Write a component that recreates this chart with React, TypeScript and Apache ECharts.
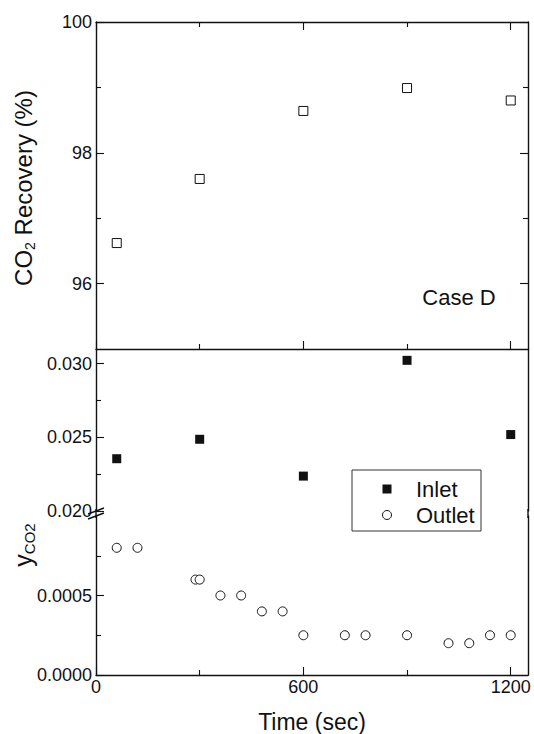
import React, { useEffect, useRef } from "react";
import * as echarts from "echarts";

// ---- data ----
const recoveryTime = [60, 300, 600, 900, 1200];
const recoveryPct = [96.62, 97.6, 98.64, 98.99, 98.8];

const inletTime = [60, 300, 600, 900, 1200];
const inletY = [0.02355, 0.02487, 0.02237, 0.03023, 0.02519];

const outletTime = [60, 120, 288, 300, 360, 420, 480, 540, 600, 720, 780, 900, 1020, 1080, 1140, 1200];
const outletY = [0.0008, 0.0008, 0.0006, 0.0006, 0.0005, 0.0005, 0.0004, 0.0004, 0.00025, 0.00025, 0.00025, 0.00025, 0.0002, 0.0002, 0.00025, 0.00025];

const xMajor = [0, 600, 1200];
const xMinor = [300, 900];
const recMajor = [96, 98, 100];
const recMinor = [97, 99];
const inMajor = [0.02, 0.025, 0.03];
const inMinor = [0.0225, 0.0275];
const outMajor = [0, 0.0005];
const outMinor = [0.00025, 0.00075];

const FONT = "'Liberation Sans', Arial, Helvetica, sans-serif";
const INK = "#111111";

function pairs(xs: number[], ys: number[]) {
  return xs.map((x, i) => [x, ys[i]]);
}

const lineStyle = { color: INK, width: 1.4 };

function xAx(grid: number, pos: "top" | "bottom", ticks: number[], len: number, showLine: boolean, labels: boolean) {
  return {
    type: "value",
    gridIndex: grid,
    position: pos,
    min: 0,
    max: 1250,
    axisLine: { show: showLine, onZero: false, lineStyle },
    axisTick: { show: true, inside: true, length: len, customValues: ticks, lineStyle: { color: INK, width: 1.1 } },
    axisLabel: labels
      ? {
          show: true,
          customValues: ticks,
          fontSize: 18,
          color: INK,
          fontFamily: FONT,
          margin: 3,
          formatter: (v: number) => String(v),
        }
      : { show: false },
    splitLine: { show: false },
  };
}

function yAx(grid: number, pos: "left" | "right", min: number, max: number, ticks: number[] | null, len: number, showLine: boolean, labelDigits: number | null) {
  return {
    type: "value",
    gridIndex: grid,
    position: pos,
    min,
    max,
    axisLine: { show: showLine, onZero: false, lineStyle },
    axisTick: ticks
      ? { show: true, inside: true, length: len, customValues: ticks, lineStyle: { color: INK, width: 1.1 } }
      : { show: false },
    axisLabel:
      labelDigits !== null && ticks
        ? {
            show: true,
            customValues: ticks,
            fontSize: 18,
            color: INK,
            fontFamily: FONT,
            margin: 4,
            formatter: (v: number) => v.toFixed(labelDigits),
          }
        : { show: false },
    splitLine: { show: false },
  };
}

export default function App() {
  const ref = useRef<HTMLDivElement>(null);

  useEffect(() => {
    if (!ref.current) return;
    const chart = echarts.init(ref.current, undefined, { renderer: "svg" });

    const L = 96;
    const W = 432;
    const R = L + W;

    const option: any = {
      animation: false,
      backgroundColor: "#ffffff",
      grid: [
        { left: L, top: 22, width: W, height: 327 },
        { left: L, top: 349, width: W, height: 162 },
        { left: L, top: 516, width: W, height: 161 },
      ],
      xAxis: [
        xAx(0, "bottom", xMajor, 8, true, false), // 0
        xAx(0, "top", xMajor, 8, true, false), // 1
        xAx(0, "bottom", xMinor, 5, false, false), // 2
        xAx(0, "top", xMinor, 5, false, false), // 3
        { ...xAx(1, "bottom", xMajor, 8, false, false), show: false }, // 4
        {
          ...xAx(2, "bottom", xMajor, 8, true, true),
          name: "Time (sec)",
          nameLocation: "middle",
          nameGap: 35,
          nameTextStyle: { fontSize: 23, color: INK, fontFamily: FONT },
        }, // 5
        xAx(2, "bottom", xMinor, 5, false, false), // 6
      ],
      yAxis: [
        yAx(0, "left", 95, 100, recMajor, 8, true, 0), // 0
        yAx(0, "right", 95, 100, recMajor, 8, true, null), // 1
        yAx(0, "left", 95, 100, recMinor, 5, false, null), // 2
        yAx(0, "right", 95, 100, recMinor, 5, false, null), // 3
        yAx(1, "left", 0.02, 0.031, inMajor, 8, true, 3), // 4
        yAx(1, "left", 0.02, 0.031, inMinor, 5, false, null), // 5
        yAx(1, "right", 0.02, 0.031, null, 0, true, null), // 6
        yAx(2, "left", 0, 0.001, outMajor, 8, true, 4), // 7
        yAx(2, "left", 0, 0.001, outMinor, 5, false, null), // 8
        yAx(2, "right", 0, 0.001, null, 0, true, null), // 9
      ],
      series: [
        {
          name: "Recovery",
          type: "scatter",
          xAxisIndex: 0,
          yAxisIndex: 0,
          symbol: "rect",
          symbolSize: 9,
          itemStyle: { color: "#ffffff", borderColor: INK, borderWidth: 1, opacity: 1 },
          data: pairs(recoveryTime, recoveryPct),
        },
        {
          name: "Inlet",
          type: "scatter",
          xAxisIndex: 4,
          yAxisIndex: 4,
          symbol: "rect",
          symbolSize: 9,
          itemStyle: { color: INK, opacity: 1 },
          data: pairs(inletTime, inletY),
        },
        {
          name: "Outlet",
          type: "scatter",
          xAxisIndex: 5,
          yAxisIndex: 7,
          symbol: "circle",
          symbolSize: 9,
          itemStyle: { color: "#ffffff", borderColor: INK, borderWidth: 1, opacity: 1 },
          data: pairs(outletTime, outletY),
        },
      ],
      graphic: [
        // axis-break fillers and slashes
        { type: "line", z: 100, shape: { x1: L, y1: 509, x2: L, y2: 518 }, style: { stroke: INK, lineWidth: 1.4 } },
        { type: "line", z: 100, shape: { x1: R, y1: 509, x2: R, y2: 518 }, style: { stroke: INK, lineWidth: 1.4 } },
        { type: "line", z: 100, shape: { x1: 88, y1: 514, x2: 104, y2: 508 }, style: { stroke: INK, lineWidth: 1.4 } },
        { type: "line", z: 100, shape: { x1: 88, y1: 519, x2: 104, y2: 513 }, style: { stroke: INK, lineWidth: 1.4 } },
        // y titles
        {
          type: "text",
          x: 23,
          y: 188,
          rotation: Math.PI / 2,
          style: {
            text: "{a|CO}{s|2}{a| Recovery (%)}",
            align: "center",
            verticalAlign: "middle",
            rich: {
              a: { fontSize: 24, fontFamily: FONT, fill: INK, lineHeight: 28 },
              s: { fontSize: 14, fontFamily: FONT, fill: INK, lineHeight: 14, verticalAlign: "bottom" },
            },
          },
        },
        {
          type: "text",
          x: 23,
          y: 545,
          rotation: Math.PI / 2,
          style: {
            text: "{a|y}{s|CO2}",
            align: "center",
            verticalAlign: "middle",
            rich: {
              a: { fontSize: 25, fontFamily: FONT, fill: INK, lineHeight: 28 },
              s: { fontSize: 15, fontFamily: FONT, fill: INK, lineHeight: 14, verticalAlign: "bottom" },
            },
          },
        },
        // Case label
        {
          type: "text",
          x: 459,
          y: 297,
          style: { text: "Case D", fontSize: 22, fontFamily: FONT, fill: INK, align: "center", verticalAlign: "middle" },
        },
        // legend
        { type: "rect", shape: { x: 352, y: 470, width: 129, height: 61 }, style: { fill: "#fff", stroke: "#333", lineWidth: 1 } },
        { type: "rect", shape: { x: 382.5, y: 484.5, width: 9, height: 9 }, style: { fill: INK } },
        { type: "circle", shape: { cx: 387, cy: 515, r: 4.5 }, style: { fill: "#fff", stroke: INK, lineWidth: 1 } },
        { type: "text", x: 416, y: 489, style: { text: "Inlet", fontSize: 22, fontFamily: FONT, fill: INK, align: "left", verticalAlign: "middle" } },
        { type: "text", x: 416, y: 515, style: { text: "Outlet", fontSize: 22, fontFamily: FONT, fill: INK, align: "left", verticalAlign: "middle" } },
      ],
    };

    chart.setOption(option);
    return () => chart.dispose();
  }, []);

  return (
    <div
      ref={ref}
      style={{ position: "fixed", left: 0, top: 0, width: 534, height: 734, background: "#fff" }}
    />
  );
}
